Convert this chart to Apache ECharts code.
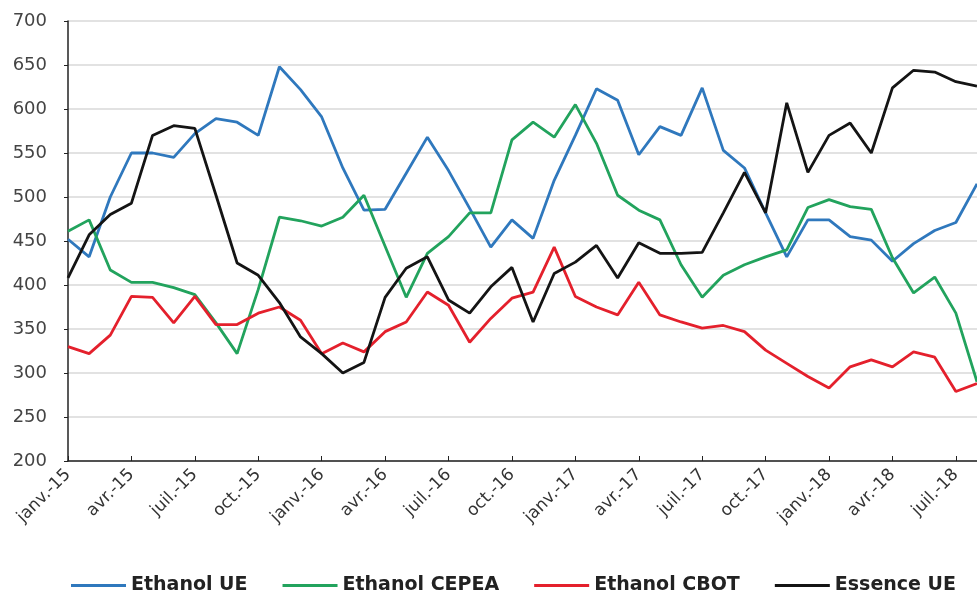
<!DOCTYPE html>
<html>
<head>
<meta charset="utf-8">
<script src="https://cdn.jsdelivr.net/npm/echarts@6/dist/echarts.min.js"></script>
<style>
html,body{margin:0;padding:0;background:#fff;}
#chart{width:977px;height:594px;}
</style>
</head>
<body>
<div id="chart"></div>
<script>
var categories = [
  'janv.-15','févr.-15','mars-15','avr.-15','mai-15','juin-15','juil.-15','août-15','sept.-15','oct.-15','nov.-15','déc.-15',
  'janv.-16','févr.-16','mars-16','avr.-16','mai-16','juin-16','juil.-16','août-16','sept.-16','oct.-16','nov.-16','déc.-16',
  'janv.-17','févr.-17','mars-17','avr.-17','mai-17','juin-17','juil.-17','août-17','sept.-17','oct.-17','nov.-17','déc.-17',
  'janv.-18','févr.-18','mars-18','avr.-18','mai-18','juin-18','juil.-18','août-18'
];
var ethanolUE = [452,432,500,550,550,545,572,589,585,570,648,622,591,533,485,486,527,568,530,487,443,474,453,519,570,623,610,548,580,570,624,553,533,482,432,474,474,455,451,427,447,462,471,515];
var ethanolCEPEA = [461,474,417,403,403,397,389,357,322,395,477,473,467,477,502,444,386,436,455,482,482,565,585,568,605,561,502,485,474,423,386,411,423,432,440,488,497,489,486,431,391,409,368,290];
var ethanolCBOT = [330,322,343,387,386,357,387,355,355,368,375,360,322,334,324,347,358,392,377,335,362,385,392,443,387,375,366,403,366,358,351,354,347,326,311,296,283,307,315,307,324,318,279,288];
var essenceUE = [408,457,480,493,570,581,578,502,425,411,380,341,322,300,312,386,419,432,383,368,398,420,358,413,426,445,408,448,436,436,437,482,528,482,607,528,570,584,550,624,644,642,631,626];
var seriesNames = ['Ethanol UE','Ethanol CEPEA','Ethanol CBOT','Essence UE'];
var seriesColors = ['#2f78bd','#22a35d','#e4202c','#141414'];
var seriesData = [ethanolUE, ethanolCEPEA, ethanolCBOT, essenceUE];

var chart = echarts.init(document.getElementById('chart'));
var font = '"DejaVu Sans", "Liberation Sans", Arial, sans-serif';
chart.setOption({
  animation: false,
  backgroundColor: '#ffffff',
  grid: {left: 68, right: -8, top: 21, bottom: 133, containLabel: false},
  legend: {
    top: 571,
    left: 66,
    itemWidth: 55,
    itemHeight: 3,
    itemGap: 35,
    icon: 'rect',
    data: seriesNames,
    textStyle: {fontFamily: font, fontSize: 19, fontWeight: 'bold', color: '#222'}
  },
  xAxis: {
    type: 'category',
    data: categories,
    boundaryGap: false,
    axisLine: {lineStyle: {color: '#222', width: 1.5}},
    axisTick: {show: true, interval: 2, inside: true, length: 5, lineStyle: {color: '#222'}},
    axisLabel: {interval: 2, rotate: 45, margin: 11, fontFamily: font, fontSize: 17, color: '#333'},
    splitLine: {show: false}
  },
  yAxis: {
    type: 'value',
    min: 200,
    max: 700,
    interval: 50,
    axisLine: {show: true, lineStyle: {color: '#222', width: 1.5}},
    axisTick: {show: true, length: 4, lineStyle: {color: '#222'}},
    axisLabel: {margin: 21, fontFamily: font, fontSize: 18, color: '#444'},
    splitLine: {lineStyle: {color: '#d9d9d9', width: 1.5}}
  },
  series: seriesData.map(function (d, k) {
    return {
      name: seriesNames[k],
      type: 'line',
      data: d,
      symbol: 'none',
      lineStyle: {color: seriesColors[k], width: 2.8},
      itemStyle: {color: seriesColors[k]}
    };
  })
});
</script>
</body>
</html>
